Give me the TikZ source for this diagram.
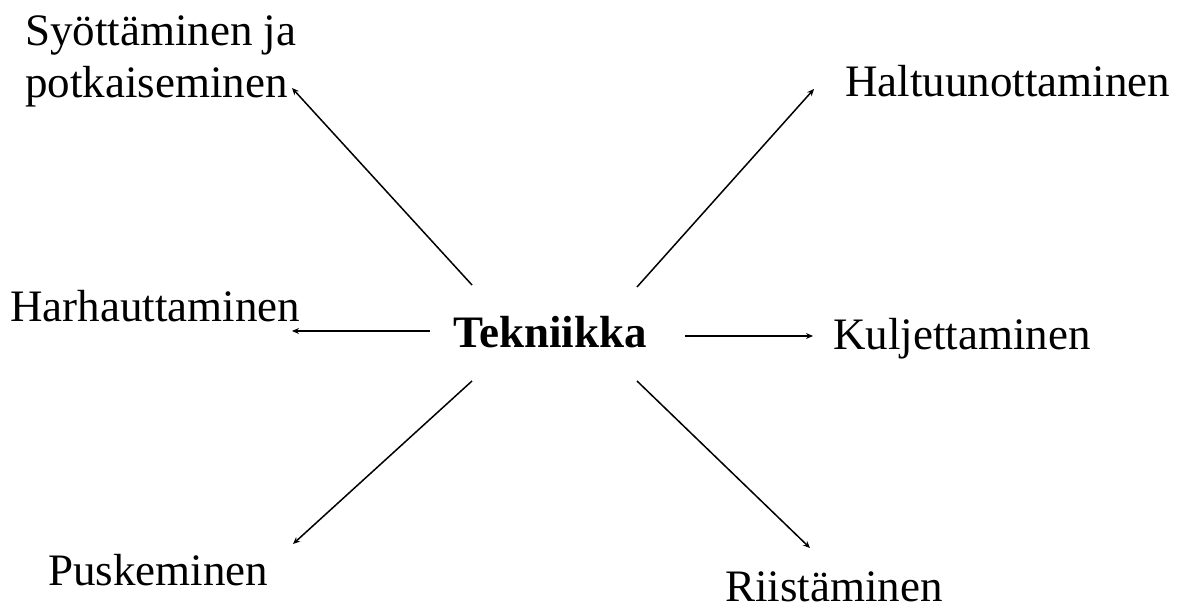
\documentclass[tikz,border=0pt]{standalone}
\usepackage{fontspec}
\setmainfont{Liberation Serif}
\usetikzlibrary{arrows.meta}
\begin{document}
\begin{tikzpicture}[x=1pt,y=-1pt,
  lbl/.style={anchor=base west,inner sep=0pt,font=\fontsize{45}{52}\selectfont},
  arr/.style={line width=1.5pt,-{Stealth[length=7pt,width=6pt]}}]
\useasboundingbox[fill=white] (0,0) rectangle (1184,612);
% centre concept
\node[lbl,font=\fontsize{45}{52}\selectfont\bfseries] (tek) at (453,348) {Tekniikka};
% surrounding skills
\node[anchor=north west,inner sep=0pt,align=left,font=\fontsize{45}{52}\selectfont] (syo) at (25,16) {Syöttäminen ja\\potkaiseminen};
\node[lbl] (hal) at (845,97) {Haltuunottaminen};
\node[lbl] (har) at (10,322) {Harhauttaminen};
\node[lbl] (kul) at (833,350) {Kuljettaminen};
\node[lbl] (pus) at (48,585) {Puskeminen};
\node[lbl] (rii) at (725,601) {Riistäminen};
% arrow end points
\coordinate (tNW) at (472,285);
\coordinate (tNE) at (637,287);
\coordinate (tW)  at (430,331);
\coordinate (tE)  at (685,336);
\coordinate (tSW) at (472,381);
\coordinate (tSE) at (637,381);
\coordinate (hSyo) at (292,88);
\coordinate (hHal) at (814,89);
\coordinate (hHar) at (292,331);
\coordinate (hKul) at (813,336);
\coordinate (hPus) at (293,544);
\coordinate (hRii) at (810,548);
\draw[arr] (tNW) -- (hSyo);
\draw[arr] (tNE) -- (hHal);
\draw[arr] (tW) -- (hHar);
\draw[arr] (tE) -- (hKul);
\draw[arr] (tSW) -- (hPus);
\draw[arr] (tSE) -- (hRii);
\end{tikzpicture}
\end{document}
